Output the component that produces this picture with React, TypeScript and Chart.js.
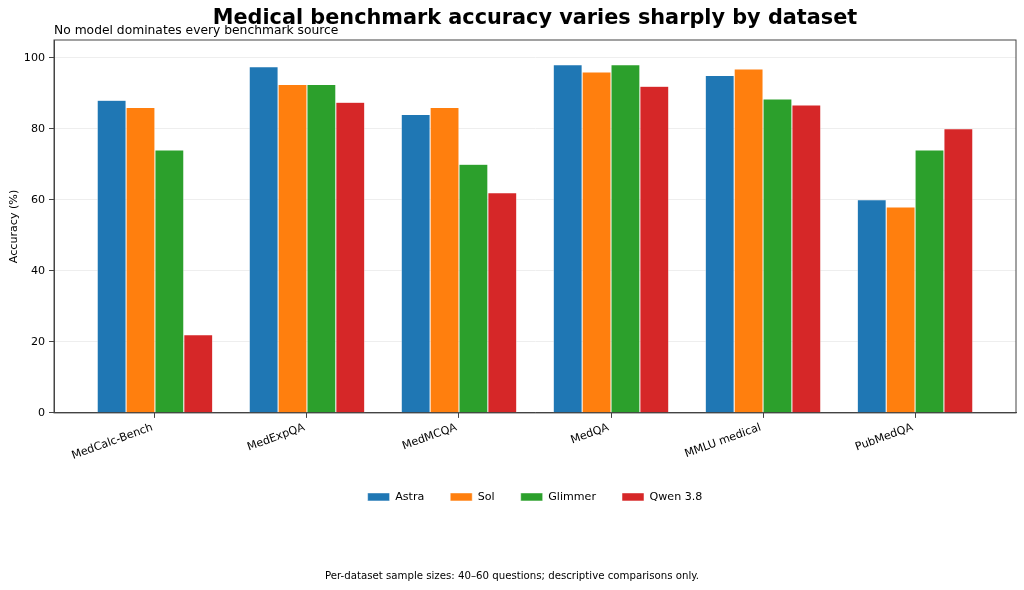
import React, { useEffect, useRef } from 'react';
import { Chart, registerables } from 'chart.js';

Chart.register(...registerables);

const categories = ['MedCalc-Bench', 'MedExpQA', 'MedMCQA', 'MedQA', 'MMLU medical', 'PubMedQA'];
const seriesNames = ['Astra', 'Sol', 'Glimmer', 'Qwen 3.8'];
const astra = [88, 97.5, 84, 98, 95, 60];
const sol = [86, 92.5, 86, 96, 96.8, 58];
const glimmer = [74, 92.5, 70, 98, 88.4, 74];
const qwen = [22, 87.5, 62, 92, 86.7, 80];
const seriesColors = ['#1f77b4', '#ff7f0e', '#2ca02c', '#d62728'];
const yTicks = [0, 20, 40, 60, 80, 100];
const titleText = 'Medical benchmark accuracy varies sharply by dataset';
const subtitleText = 'No model dominates every benchmark source';
const footerText = 'Per-dataset sample sizes: 40–60 questions; descriptive comparisons only.';
const yAxisLabel = 'Accuracy (%)';

const FONT = '"DejaVu Sans", "Liberation Sans", sans-serif';

const decorPlugin = {
  id: 'decor',
  afterDraw(chart: any) {
    const { ctx, chartArea: a } = chart;
    ctx.save();
    ctx.strokeStyle = '#444444';
    ctx.lineWidth = 1;
    ctx.strokeRect(a.left, a.top, a.right - a.left, a.bottom - a.top);
    ctx.fillStyle = '#000000';
    ctx.textBaseline = 'alphabetic';
    ctx.font = `bold 20.8px ${FONT}`;
    ctx.textAlign = 'center';
    ctx.fillText(titleText, (a.left + a.right) / 2, 24);
    ctx.font = `12.3px ${FONT}`;
    ctx.textAlign = 'left';
    ctx.fillText(subtitleText, a.left, 33.5);
    ctx.font = `10.2px ${FONT}`;
    ctx.textAlign = 'center';
    ctx.fillText(footerText, chart.width / 2, 579);
    ctx.restore();
  },
};

export default function App() {
  const canvasRef = useRef<HTMLCanvasElement | null>(null);

  useEffect(() => {
    if (!canvasRef.current) return;
    Chart.defaults.font.family = FONT;
    const seriesValues = [astra, sol, glimmer, qwen];
    const chart = new Chart(canvasRef.current, {
      type: 'bar',
      data: {
        datasets: seriesValues.map((vals, s) => ({
          label: seriesNames[s],
          data: vals.map((v, i) => ({ x: i, y: v })),
          backgroundColor: seriesColors[s],
          borderColor: '#ffffff',
          borderWidth: 0.5,
          categoryPercentage: 0.76,
          barPercentage: 1.0,
        })),
      },
      options: {
        animation: false,
        responsive: true,
        maintainAspectRatio: false,
        layout: { padding: { top: 40, right: 8, bottom: 77.5, left: 0 } },
        plugins: {
          tooltip: { enabled: false },
          title: { display: false },
          legend: {
            position: 'bottom',
            fullSize: false,
            labels: {
              boxWidth: 22,
              boxHeight: 8,
              padding: 26,
              color: '#000000',
              font: { size: 11.1, family: FONT },
            },
          },
        },
        scales: {
          x: {
            type: 'linear',
            offset: false,
            min: -0.664,
            max: 5.664,
            afterBuildTicks: (scale: any) => {
              scale.ticks = categories.map((_, i) => ({ value: i }));
            },
            afterFit: (scale: any) => {
              scale.height = 52.5;
            },
            ticks: {
              autoSkip: false,
              minRotation: 20,
              maxRotation: 20,
              padding: 3,
              labelOffset: -2.5,
              color: '#000000',
              font: { size: 11.1, family: FONT },
              callback: (value: any) => categories[Math.round(Number(value))] ?? '',
            },
            grid: {
              display: true,
              offset: false,
              drawOnChartArea: false,
              drawTicks: true,
              tickLength: 5,
              tickColor: '#444444',
            },
            border: { display: true, color: '#444444', width: 1 },
          },
          y: {
            type: 'linear',
            min: 0,
            max: 105,
            afterBuildTicks: (scale: any) => {
              scale.ticks = yTicks.map((v) => ({ value: v }));
            },
            afterFit: (scale: any) => {
              scale.width = 54;
            },
            ticks: {
              padding: 4,
              color: '#000000',
              font: { size: 11.1, family: FONT },
            },
            grid: {
              color: '#eeeeee',
              lineWidth: 1,
              drawTicks: true,
              tickLength: 5,
              tickColor: '#444444',
            },
            border: { display: true, color: '#444444', width: 1 },
            title: {
              display: true,
              text: yAxisLabel,
              color: '#000000',
              padding: { top: 7, bottom: 0 },
              font: { size: 11.1, family: FONT },
            },
          },
        },
      },
      plugins: [decorPlugin],
    } as any);
    return () => chart.destroy();
  }, []);

  return (
    <div style={{ position: 'fixed', left: 0, top: 0, width: 1024, height: 590, background: '#ffffff' }}>
      <canvas ref={canvasRef} />
    </div>
  );
}
